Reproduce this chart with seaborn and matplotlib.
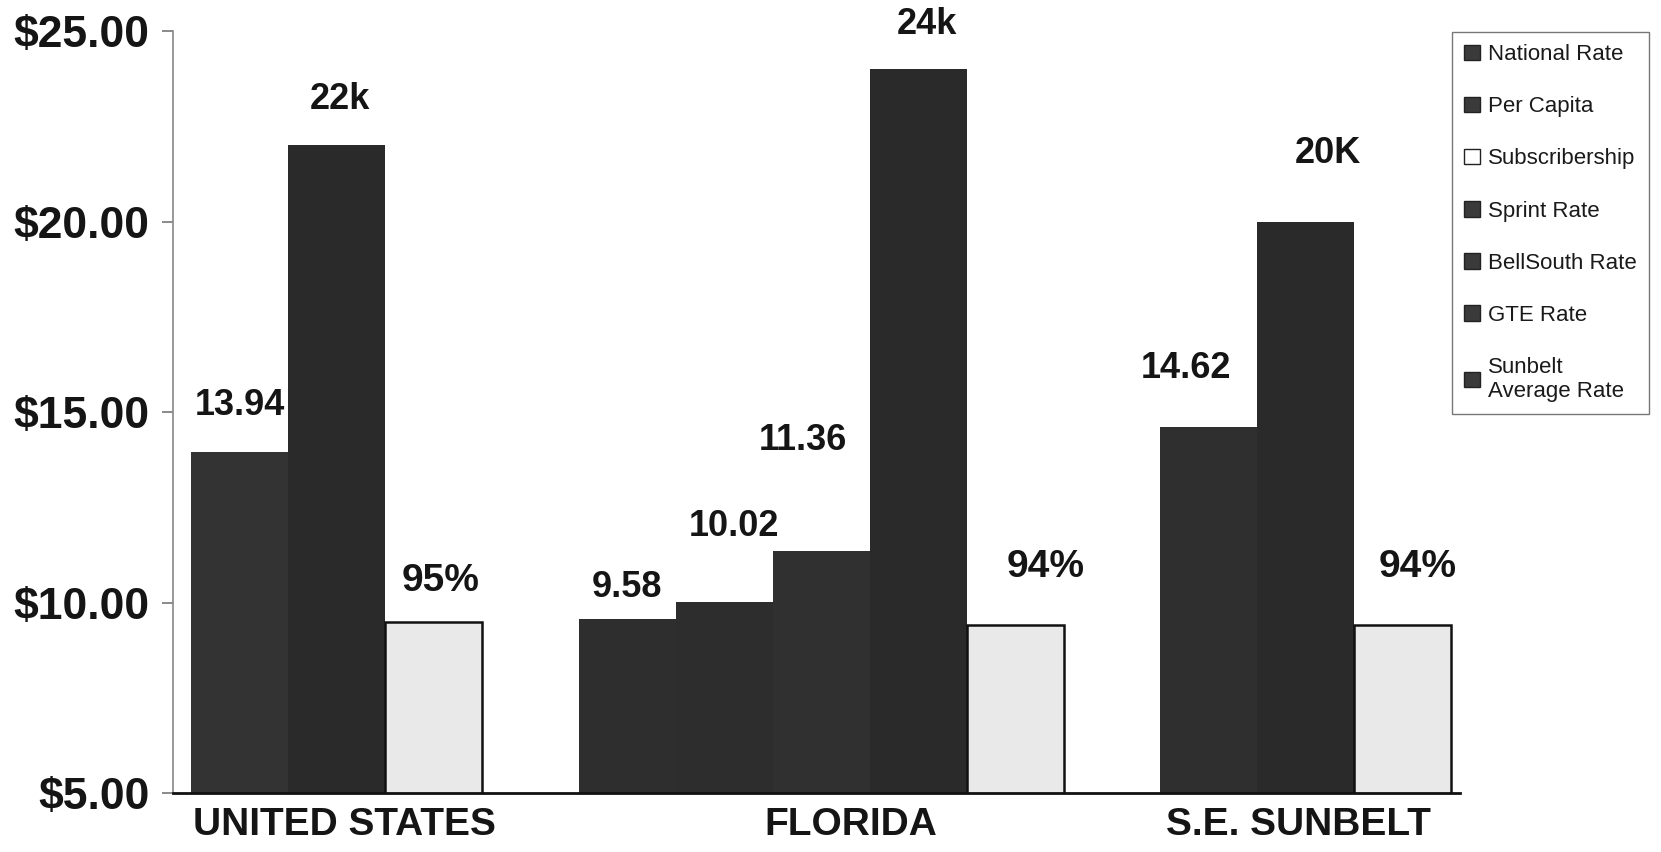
import numpy as np
import pandas as pd
import matplotlib
matplotlib.use("Agg")
import matplotlib.pyplot as plt
import seaborn as sns
from matplotlib.patches import Patch

# ---- data -------------------------------------------------------------
regions = ["UNITED STATES", "FLORIDA", "S.E. SUNBELT"]
series_order = ["National Rate", "Per Capita", "Subscribership", "Sprint Rate",
                "BellSouth Rate", "GTE Rate", "Sunbelt\nAverage Rate"]

# bars of each region, left to right
region_series = {
    "UNITED STATES": ["National Rate", "Per Capita", "Subscribership"],
    "FLORIDA": ["Sprint Rate", "BellSouth Rate", "GTE Rate", "Per Capita", "Subscribership"],
    "S.E. SUNBELT": ["Sunbelt\nAverage Rate", "Per Capita", "Subscribership"],
}
# monthly rates in dollars
rates = {"UNITED STATES": [13.94], "FLORIDA": [9.58, 10.02, 11.36], "S.E. SUNBELT": [14.62]}
# per capita income in thousands of dollars
per_capita_k = [22, 24, 20]
per_capita_suffix = ["k", "k", "K"]
# telephone subscribership in percent (shown on the dollar scale divided by 10)
subscribership_pct = [95, 94, 94]

y_ticks = [5, 10, 15, 20, 25]
y_tick_labels = ["$5.00", "$10.00", "$15.00", "$20.00", "$25.00"]

# ---- table of bars ----------------------------------------------------
rows = []
slot = 0
group_slots = []
for i, reg in enumerate(regions):
    start = slot
    for j, s in enumerate(region_series[reg]):
        if s == "Per Capita":
            v, lab = per_capita_k[i], f"{per_capita_k[i]}{per_capita_suffix[i]}"
        elif s == "Subscribership":
            v, lab = subscribership_pct[i] / 10, f"{subscribership_pct[i]}%"
        else:
            v = rates[reg][j]
            lab = f"{v:.2f}"
        rows.append({"region": reg, "series": s, "slot": slot, "value": v, "label": lab})
        slot += 1
    group_slots.append((start + slot - 1) / 2)
    slot += 1  # empty slot between regions
df = pd.DataFrame(rows)

# label placement (horizontal shift in bar widths, vertical gap in points)
label_dx = [0.0, 0.04, 0.07, 0.0, 0.1, -0.19, 0.09, 0.31, -0.24, 0.23, 0.15]
label_dy = [34, 33, 29, 22, 54, 79, 32, 42, 42, 49, 42]
region_label_shift = [0.08, 0.31, -0.08]

# ---- styling ----------------------------------------------------------
sns.set_theme(style="white")
plt.rcParams["font.family"] = ["Liberation Sans", "DejaVu Sans"]

light = "#e9e9e9"
palette = {
    "National Rate": "#333333",
    "Per Capita": "#2a2a2a",
    "Subscribership": light,
    "Sprint Rate": "#2e2e2e",
    "BellSouth Rate": "#2d2d2d",
    "GTE Rate": "#303030",
    "Sunbelt\nAverage Rate": "#2f2f2f",
}

fig = plt.figure(figsize=(16.61, 8.52), dpi=100)
ax = fig.add_axes([0.1042, 0.0692, 0.7748, 0.8944])

sns.barplot(data=df, x="slot", y="value", hue="series", hue_order=series_order,
            palette=palette, dodge=False, native_scale=True, width=1.0,
            saturation=1, legend=False, ax=ax, linewidth=0, errorbar=None)

for p in ax.patches:
    if np.allclose(p.get_facecolor()[:3], matplotlib.colors.to_rgb(light)):
        p.set_edgecolor("#111111")
        p.set_linewidth(1.8)

ax.set_xlim(-0.686, 12.59)
ax.set_ylim(5, 25)

# value labels
for k, r in df.iterrows():
    size = 28 if r["series"] == "Subscribership" else 26
    ax.annotate(r["label"], xy=(r["slot"] + label_dx[k], r["value"]),
                xytext=(0, label_dy[k]), textcoords="offset points",
                ha="center", va="center", fontsize=size, fontweight="bold",
                color="#151515")

ax.set_yticks(y_ticks)
ax.set_yticklabels(y_tick_labels, fontsize=32, fontweight="bold", color="#151515")
ax.set_xticks(np.array(group_slots) + np.array(region_label_shift))
ax.set_xticklabels(regions, fontsize=28, fontweight="bold", color="#151515")
ax.tick_params(axis="y", which="major", left=True, length=8, width=1.2,
               color="#777777", pad=9)
ax.tick_params(axis="x", length=0, pad=10)
ax.set_xlabel("")
ax.set_ylabel("")

for side in ["top", "right"]:
    ax.spines[side].set_visible(False)
ax.spines["left"].set_color("#888888")
ax.spines["left"].set_linewidth(1.2)
ax.spines["bottom"].set_color("#111111")
ax.spines["bottom"].set_linewidth(2)

# legend
handles = []
for s in series_order:
    handles.append(Patch(facecolor="white" if s == "Subscribership" else "#3a3a3a",
                         edgecolor="#222222", linewidth=1.0, label=s))
leg = fig.legend(handles=handles, labels=series_order, loc="upper left",
                 bbox_to_anchor=(1452 / 1661, 1 - 32 / 852),
                 bbox_transform=fig.transFigure, borderaxespad=0,
                 frameon=True, fancybox=False,
                 edgecolor="#555555", fontsize=16, handlelength=0.7,
                 handleheight=0.7, handletextpad=0.35, labelspacing=1.4,
                 borderpad=0.55)
leg.get_frame().set_linewidth(1.0)
for t in leg.get_texts():
    t.set_color("#1a1a1a")

fig.savefig("out.png", dpi=100, facecolor="white")
